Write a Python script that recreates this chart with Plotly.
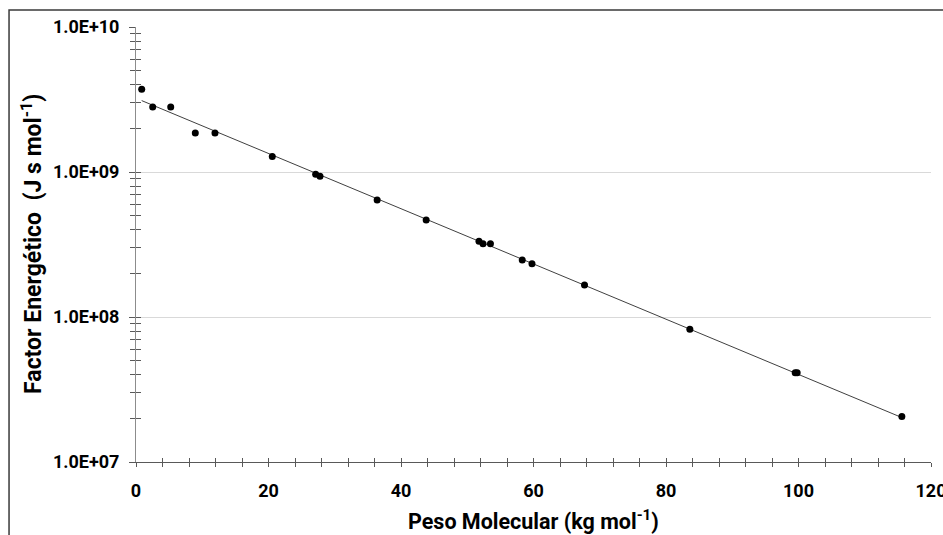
import numpy as np
import plotly.graph_objects as go

# Data
peso_molecular = [0.86, 2.52, 5.24, 8.95, 11.92, 20.57, 27.12, 27.77, 36.4, 43.8,
                  51.77, 52.38, 53.5, 58.3, 59.77, 67.7, 83.6, 99.5, 99.8, 115.6]
factor_energetico = [3.72e9, 2.81e9, 2.81e9, 1.86e9, 1.86e9, 1.28e9, 9.63e8, 9.33e8, 6.40e8, 4.67e8,
                     3.33e8, 3.20e8, 3.20e8, 2.47e8, 2.33e8, 1.66e8, 8.24e7, 4.12e7, 4.12e7, 2.06e7]

x_ticks = [0, 20, 40, 60, 80, 100, 120]
y_ticks = [1e7, 1e8, 1e9, 1e10]
y_ticktext = [f"{v:.1E}" for v in y_ticks]
y_minor = [m * 10 ** e for e in range(7, 10) for m in range(2, 10)]

x_title = "Peso Molecular (kg mol<sup>-1</sup>)"
y_title = "Factor Energético  (J s mol<sup>-1</sup>)"

# Exponential trendline (least squares on log10)
xa = np.array(peso_molecular)
ya = np.log10(np.array(factor_energetico))
slope, intercept = np.polyfit(xa, ya, 1)
trend_x = np.array([xa.min(), xa.max()])
trend_y = 10 ** (intercept + slope * trend_x)

FONT = "Roboto"

fig = go.Figure()
fig.add_trace(go.Scatter(x=trend_x, y=trend_y, mode="lines",
                         line=dict(color="#404040", width=1), showlegend=False, hoverinfo="skip"))
fig.add_trace(go.Scatter(x=peso_molecular, y=factor_energetico, mode="markers",
                         marker=dict(color="black", size=7), showlegend=False))
# dummy trace for overlay axes (inside half of crossing ticks)
fig.add_trace(go.Scatter(x=[None], y=[None], xaxis="x2", yaxis="y2", showlegend=False, hoverinfo="skip"))

tickfont = dict(family=FONT, size=18, color="black", weight="bold")

fig.update_layout(
    width=943, height=535,
    margin=dict(l=136, r=12, t=27, b=73, autoexpand=False),
    paper_bgcolor="white", plot_bgcolor="white",
    xaxis=dict(range=[0, 120], tickvals=x_ticks, ticks="outside", ticklen=4, tickcolor="#595959",
               showline=True, linecolor="#595959", linewidth=1, showgrid=False, zeroline=False,
               tickfont=tickfont, ticklabelstandoff=8, ticklabeloverflow="allow", automargin=False,
               minor=dict(dtick=4, ticks="outside", ticklen=4, tickcolor="#595959", showgrid=False)),
    yaxis=dict(type="log", range=[7, 10], tickvals=y_ticks, ticktext=y_ticktext,
               ticks="outside", ticklen=6, tickcolor="#595959",
               showline=True, linecolor="#8c8c8c", linewidth=1,
               showgrid=True, gridcolor="#d9d9d9", gridwidth=1, zeroline=False,
               tickfont=tickfont, ticklabelstandoff=6, ticklabeloverflow="allow", automargin=False,
               minor=dict(tickvals=y_minor, ticks="outside", ticklen=5, tickcolor="#595959", showgrid=False)),
    xaxis2=dict(range=[0, 120], overlaying="x", anchor="y2", tickvals=x_ticks, ticks="inside", ticklen=4,
                tickcolor="#595959", showticklabels=False, showgrid=False, zeroline=False, showline=False,
                automargin=False,
                minor=dict(dtick=4, ticks="inside", ticklen=4, tickcolor="#595959", showgrid=False)),
    yaxis2=dict(type="log", range=[7, 10], overlaying="y", anchor="x2", tickvals=y_ticks, ticks="inside",
                ticklen=5, tickcolor="#595959", showticklabels=False, showgrid=False, zeroline=False,
                showline=False, automargin=False,
                minor=dict(tickvals=y_minor, ticks="inside", ticklen=5, tickcolor="#595959", showgrid=False)),
    annotations=[
        dict(text=x_title, xref="paper", yref="paper", x=0.4994, y=-0.133, showarrow=False,
             xanchor="center", yanchor="middle",
             font=dict(family=FONT, size=21.5, color="black", weight="bold")),
        dict(text=y_title, xref="paper", yref="paper", x=-0.131, y=0.501, showarrow=False,
             textangle=-90, xanchor="center", yanchor="middle",
             font=dict(family=FONT, size=23, color="black", weight="bold")),
    ],
    shapes=[
        dict(type="rect", xref="paper", yref="paper", x0=-0.1597, y0=-0.25, x1=1.05, y1=1.039,
             line=dict(color="#3a3a3a", width=1.5), fillcolor="rgba(0,0,0,0)", layer="below"),
    ],
)

fig.write_html("out.html")
